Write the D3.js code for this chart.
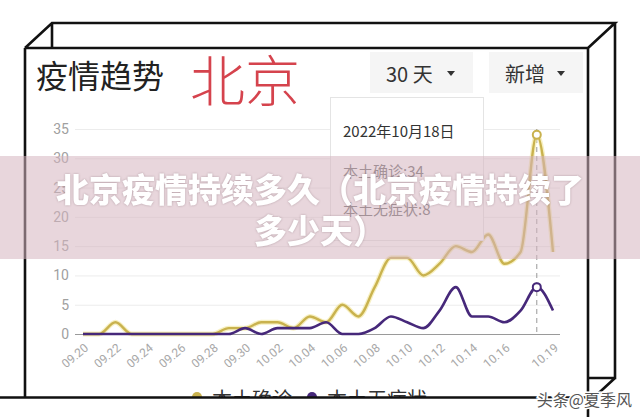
<!DOCTYPE html>
<html>
<head>
<meta charset="utf-8">
<script src="https://cdn.jsdelivr.net/npm/d3@7"></script>
<style>
  body { margin: 0; background: #fff; }
  text { font-family: "Noto Sans CJK SC", "Noto Sans", sans-serif; }
</style>
</head>
<body>
<div id="chart"></div>
<script>
// data
var dates = ["09.20","09.21","09.22","09.23","09.24","09.25","09.26","09.27","09.28","09.29","09.30",
             "10.01","10.02","10.03","10.04","10.05","10.06","10.07","10.08","10.09","10.10",
             "10.11","10.12","10.13","10.14","10.15","10.16","10.17","10.18","10.19"];
var confirmed = [0,0,2,0,0,0,0,0,0,1,1, 2,2,1,3,2,5,3,8,13,13, 10,12,15,14,17,12,14,34,14];
var asymptomatic = [0,0,0,0,0,0,0,0,0,0,1, 0,1,1,1,2,0,0,1,3,2, 1,4,8,3,3,2,4,8,4];
var xTickLabels = ["09.20","09.22","09.24","09.26","09.28","09.30","10.02","10.04","10.06",
                   "10.08","10.10","10.12","10.14","10.16","10.19"];
var yTicks = [0,5,10,15,20,25,30,35];
var seriesNames = ["本土确诊","本土无症状"];
var focusDate = "10.18";

var width = 640, height = 417;
var yellow = "#c9b24e", purple = "#46287a";

var svg = d3.select("#chart").append("svg")
    .attr("width", width)
    .attr("height", height);

svg.append("rect").attr("width", width).attr("height", height).attr("fill", "#fff");

// set the ranges
var x = d3.scalePoint().domain(dates).range([83, 553]);
var y = d3.scaleLinear().domain([0, 35]).range([334, 129]);

// header
svg.append("text").attr("x", 36).attr("y", 74).attr("dominant-baseline", "central")
    .style("font-size", "32px").attr("fill", "#222").text("疫情趋势");
svg.append("text").attr("x", 190).attr("y", 77).attr("dominant-baseline", "central")
    .style("font-size", "55px").style("font-weight", 300).attr("fill", "#d5434d").text("北京");

var buttons = [{x: 370, w: 103, label: "30 天"}, {x: 489, w: 94, label: "新增"}];
buttons.forEach(function(b) {
    svg.append("rect").attr("x", b.x).attr("y", 52).attr("width", b.w).attr("height", 41)
        .attr("fill", "#f5f5f5");
    svg.append("text").attr("x", b.x + 16).attr("y", 73).attr("dominant-baseline", "central")
        .style("font-size", "20px").attr("fill", "#333").text(b.label);
    var tx = b.x + b.w - 22;
    svg.append("path").attr("d", "M" + (tx - 4) + ",71 L" + (tx + 4) + ",71 L" + tx + ",76 Z")
        .attr("fill", "#333");
});

// grid + y labels
var yAxis = svg.append("g")
    .attr("transform", "translate(75,0)")
    .call(d3.axisLeft(y).tickValues(yTicks).tickSize(-485).tickPadding(6));
yAxis.select(".domain").remove();
yAxis.selectAll("line").attr("stroke", "#ececec");
yAxis.selectAll("text").attr("fill", "#a0a0a0").style("font-size", "14px")
    .style("font-family", "Roboto, 'Noto Sans', sans-serif");

// x axis
svg.append("line").attr("x1", 75).attr("x2", 560).attr("y1", 334.5).attr("y2", 334.5)
    .attr("stroke", "#9a9a9a");
var xAxis = svg.append("g")
    .attr("transform", "translate(0,334)")
    .call(d3.axisBottom(x).tickValues(xTickLabels).tickSize(0));
xAxis.select(".domain").remove();
xAxis.selectAll(".tick text")
    .attr("fill", "#a8a8a8")
    .style("font-size", "12px")
    .style("font-family", "Roboto, 'Noto Sans', sans-serif")
    .style("text-anchor", "end")
    .attr("x", 0).attr("y", 0).attr("dy", "0.35em")
    .attr("transform", "translate(3,12) rotate(-40)");

// pointer line
svg.append("line")
    .attr("x1", x(focusDate)).attr("x2", x(focusDate))
    .attr("y1", y(35)).attr("y2", y(0))
    .attr("stroke", "#999").attr("stroke-dasharray", "5,4");

// lines
var line = function(vals) {
    return d3.line()
        .x(function(d, i) { return x(dates[i]); })
        .y(function(d) { return y(d); })
        .curve(d3.curveMonotoneX)(vals);
};
svg.append("path").attr("d", line(confirmed)).attr("fill", "none")
    .attr("stroke", "#f2e69a").attr("stroke-width", 5).attr("opacity", 0.6);
svg.append("path").attr("d", line(confirmed)).attr("fill", "none")
    .attr("stroke", yellow).attr("stroke-width", 2.4);
svg.append("path").attr("d", line(asymptomatic)).attr("fill", "none")
    .attr("stroke", purple).attr("stroke-width", 2.6);

var fi = dates.indexOf(focusDate);
[[confirmed, yellow], [asymptomatic, purple]].forEach(function(s) {
    svg.append("circle").attr("cx", x(focusDate)).attr("cy", y(s[0][fi])).attr("r", 4)
        .attr("fill", "#fff").attr("stroke", s[1]).attr("stroke-width", 2);
});

// tooltip
svg.append("rect").attr("x", 330.5).attr("y", 97.5).attr("width", 153).attr("height", 143)
    .attr("fill", "#fff").attr("stroke", "#e4e4e4");
svg.append("text").attr("x", 343).attr("y", 130).attr("dominant-baseline", "central")
    .style("font-size", "15px").attr("fill", "#333").text("2022年10月18日");
svg.append("text").attr("x", 343).attr("y", 170).attr("dominant-baseline", "central")
    .style("font-size", "15px").attr("fill", "#666").text(seriesNames[0] + ":" + confirmed[fi]);
svg.append("text").attr("x", 343).attr("y", 208).attr("dominant-baseline", "central")
    .style("font-size", "15px").attr("fill", "#666").text(seriesNames[1] + ":" + asymptomatic[fi]);

// legend (cut by the frame bottom)
var lg = svg.append("g");
[[197, yellow, seriesNames[0]], [312, purple, seriesNames[1]]].forEach(function(l) {
    lg.append("circle").attr("cx", l[0]).attr("cy", 397).attr("r", 5).attr("fill", l[1]);
    lg.append("text").attr("x", l[0] + 15).attr("y", 398).attr("dominant-baseline", "central")
        .style("font-size", "20px").attr("fill", "#333").text(l[2]);
});
svg.append("rect").attr("x", 0).attr("y", 398).attr("width", width).attr("height", 19).attr("fill", "#fff");

// box frame
var frame = [
    "M0,397.5 L588,397.5",
    "M25,48 L25,397.5",
    "M25,48 L588,48",
    "M25,48 L52,23 L615,23 L588,48",
    "M52,23 L52,48",
    "M588,48 L588,417",
    "M615,23 L615,378 L588,378",
    "M615,378 L589,402"
];
svg.append("path").attr("d", frame.join(" ")).attr("fill", "none")
    .attr("stroke", "#111").attr("stroke-width", 2.6).attr("stroke-linejoin", "miter");

// watermark
svg.append("text").attr("x", 632).attr("y", 399).attr("dominant-baseline", "central")
    .attr("text-anchor", "end").style("font-size", "16px")
    .attr("fill", "#555").attr("stroke", "#fff").attr("stroke-width", 3).attr("paint-order", "stroke")
    .text("头条@夏季风");

// banner overlay
svg.append("rect").attr("x", 0).attr("y", 156).attr("width", width).attr("height", 103)
    .attr("fill", "rgb(214,180,192)").attr("opacity", 0.55);
var title = ["北京疫情持续多久（北京疫情持续了", "多少天）"];
title.forEach(function(t, i) {
    svg.append("text").attr("x", 320).attr("y", 188 + i * 41)
        .attr("text-anchor", "middle").attr("dominant-baseline", "central")
        .style("font-size", "33px").style("font-weight", 900)
        .attr("fill", "#fff")
        .style("filter", "drop-shadow(0 0 1px rgba(90,60,70,0.35))")
        .text(t);
});
</script>
</body>
</html>
